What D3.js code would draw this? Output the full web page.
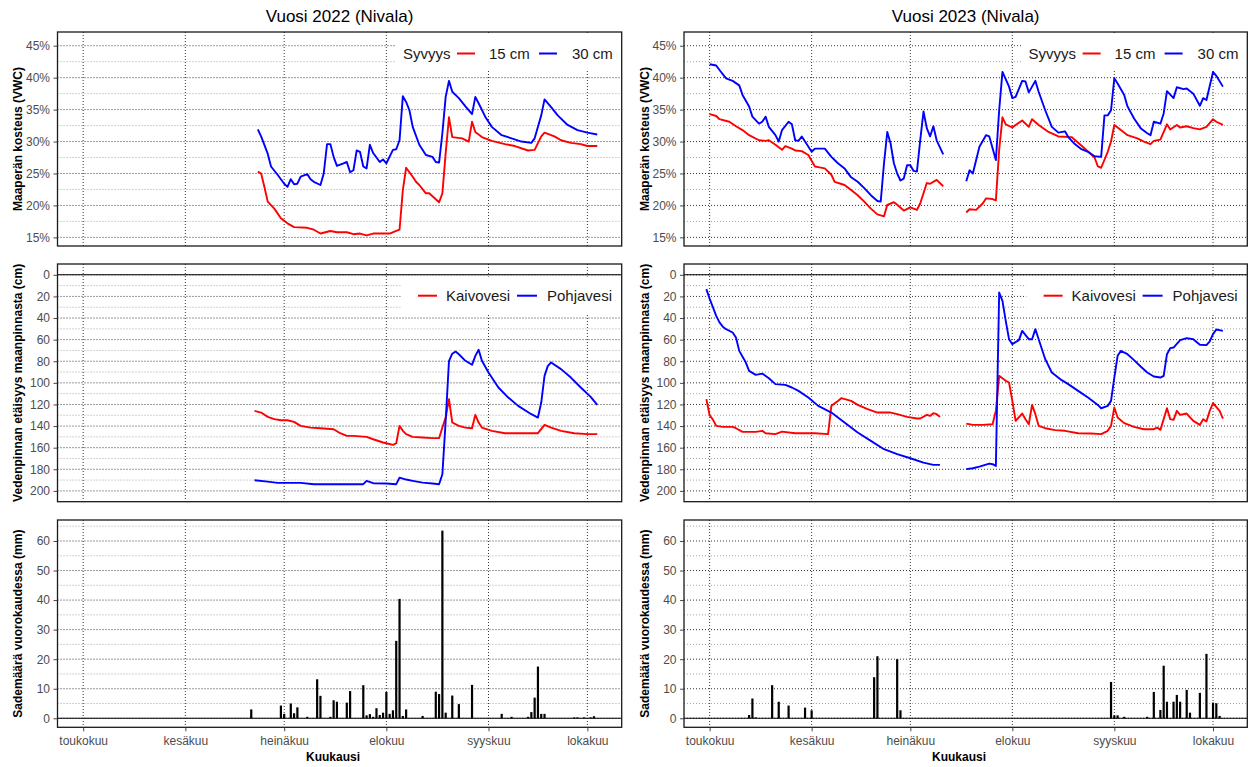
<!DOCTYPE html>
<html><head><meta charset="utf-8">
<script src="https://cdn.jsdelivr.net/npm/d3@7"></script>
<style>body{margin:0;background:#fff;} svg{font-family:"Liberation Sans",Arial,Helvetica,sans-serif;}</style>
</head><body>
<svg id="chart" width="1250" height="767"></svg>
<script>
// ---------------- DATA ----------------
const years = [2022, 2023];
const titles = ["Vuosi 2022 (Nivala)", "Vuosi 2023 (Nivala)"];
const monthLabels = ["toukokuu","kesäkuu","heinäkuu","elokuu","syyskuu","lokakuu"];
const monthStarts = ["05-01","06-01","07-01","08-01","09-01","10-01"];
const moistTicks = [15,20,25,30,35,40,45];
const moistMinor = [17.5,22.5,27.5,32.5,37.5,42.5];
const depthTicks = [0,20,40,60,80,100,120,140,160,180,200];
const depthMinor = [10,30,50,70,90,110,130,150,170,190];
const rainTicks = [0,10,20,30,40,50,60];
const rainMinor = [5,15,25,35,45,55,65];
const yTitles = ["Maaperän kosteus (VWC)","Vedenpinnan etäisyys maanpinnasta (cm)","Sademäärä vuorokaudessa (mm)"];
const moistLegend = ["Syvyys","15 cm","30 cm"];
const waterLegend = ["Kaivovesi","Pohjavesi"];
const xTitle = "Kuukausi";

// Soil moisture (%), 15 cm and 30 cm
const moist15_2022 = [["06-23",25.3],["06-24",25.0],["06-25",22.9],["06-26",20.6],["06-28",19.5],["06-30",18.0],["07-02",17.2],["07-04",16.6],["07-08",16.5],["07-10",16.2],["07-12",15.6],["07-15",16.0],["07-17",15.8],["07-20",15.8],["07-22",15.5],["07-24",15.6],["07-26",15.3],["07-28",15.6],["08-02",15.6],["08-04",16.0],["08-05",16.2],["08-06",22.4],["08-07",25.9],["08-09",24.5],["08-10",23.7],["08-11",23.2],["08-13",21.9],["08-14",21.9],["08-17",20.5],["08-18",21.9],["08-19",28.2],["08-20",33.8],["08-21",30.7],["08-24",30.5],["08-26",30.0],["08-27",33.1],["08-28",31.5],["08-30",30.7],["09-02",30.1],["09-06",29.6],["09-09",29.3],["09-13",28.6],["09-15",28.7],["09-17",30.8],["09-18",31.4],["09-21",30.8],["09-23",30.2],["09-26",29.8],["09-29",29.6],["10-01",29.3],["10-04",29.3]];
const moist30_2022 = [["06-23",31.9],["06-24",30.8],["06-26",28.1],["06-27",26.1],["06-29",24.8],["07-01",23.4],["07-02",22.9],["07-03",24.1],["07-04",23.3],["07-05",23.4],["07-06",24.5],["07-08",24.9],["07-09",24.1],["07-10",23.7],["07-12",23.2],["07-13",25.0],["07-14",29.6],["07-15",29.6],["07-16",27.6],["07-17",26.2],["07-19",26.6],["07-20",26.8],["07-21",25.2],["07-22",25.5],["07-23",28.6],["07-24",28.4],["07-25",26.1],["07-26",25.8],["07-27",29.5],["07-28",28.2],["07-30",26.8],["07-31",27.2],["08-01",26.6],["08-03",28.7],["08-04",28.8],["08-05",30.2],["08-06",37.1],["08-07",36.2],["08-08",34.9],["08-09",32.3],["08-11",29.5],["08-13",27.9],["08-15",27.6],["08-16",26.8],["08-17",26.7],["08-18",31.3],["08-19",37.0],["08-20",39.5],["08-21",37.8],["08-23",36.8],["08-25",35.5],["08-27",34.3],["08-28",37.0],["08-29",36.0],["08-31",33.9],["09-02",32.3],["09-05",31.0],["09-08",30.5],["09-11",30.0],["09-14",29.8],["09-15",30.5],["09-17",34.1],["09-18",36.6],["09-20",35.4],["09-22",34.1],["09-25",32.6],["09-28",31.8],["10-01",31.4],["10-04",31.1]];
const moist15_2023 = [["05-01",34.3],["05-03",34.0],["05-04",33.5],["05-07",33.1],["05-09",32.4],["05-11",31.8],["05-13",31.0],["05-16",30.2],["05-18",30.1],["05-19",30.2],["05-21",29.5],["05-23",28.7],["05-24",29.3],["05-26",28.9],["05-27",28.6],["05-29",28.5],["05-31",27.9],["06-02",26.1],["06-03",26.0],["06-05",25.8],["06-07",24.8],["06-08",23.7],["06-11",23.2],["06-13",22.4],["06-15",21.6],["06-17",20.6],["06-19",19.5],["06-21",18.6],["06-23",18.3],["06-24",20.1],["06-26",20.5],["06-27",20.1],["06-29",19.2],["07-01",19.7],["07-03",19.3],["07-04",20.3],["07-06",23.5],["07-07",23.4],["07-09",24.0],["07-11",23.0],["07-14",null],["07-18",18.9],["07-19",19.4],["07-21",19.3],["07-23",20.3],["07-24",21.1],["07-26",21.0],["07-27",20.8],["07-28",28.7],["07-29",33.8],["07-30",32.7],["08-01",32.2],["08-02",32.6],["08-04",33.3],["08-06",32.3],["08-07",33.5],["08-09",32.6],["08-12",31.5],["08-15",30.8],["08-19",30.7],["08-21",29.8],["08-23",28.9],["08-26",27.5],["08-27",26.1],["08-28",25.9],["08-30",28.4],["08-31",30.0],["09-01",32.6],["09-03",31.8],["09-05",31.0],["09-08",30.5],["09-10",30.0],["09-12",29.6],["09-13",30.1],["09-15",30.3],["09-17",32.7],["09-18",31.9],["09-20",32.6],["09-21",32.2],["09-23",32.4],["09-25",32.1],["09-27",31.9],["09-29",32.3],["10-01",33.5],["10-02",33.1],["10-04",32.6]];
const moist30_2023 = [["05-01",42.1],["05-03",41.9],["05-04",41.2],["05-06",39.9],["05-08",39.5],["05-10",38.8],["05-11",37.3],["05-13",35.5],["05-14",33.9],["05-16",32.8],["05-17",33.1],["05-18",33.9],["05-19",32.3],["05-21",31.0],["05-22",30.0],["05-23",31.8],["05-25",33.1],["05-26",32.7],["05-27",30.2],["05-28",30.1],["05-29",30.8],["05-30",30.0],["06-01",28.4],["06-02",28.9],["06-05",28.9],["06-07",27.6],["06-09",26.6],["06-11",25.8],["06-13",24.4],["06-15",23.7],["06-17",22.7],["06-19",21.6],["06-21",20.7],["06-22",20.6],["06-23",26.6],["06-24",31.5],["06-25",29.7],["06-26",26.6],["06-27",25.0],["06-28",23.9],["06-29",24.2],["06-30",26.3],["07-01",26.3],["07-02",25.4],["07-03",25.3],["07-04",30.2],["07-05",34.7],["07-06",32.1],["07-07",30.8],["07-08",32.4],["07-09",30.2],["07-11",28.0],["07-14",null],["07-18",23.8],["07-19",25.5],["07-20",25.0],["07-22",29.2],["07-24",31.0],["07-25",30.8],["07-27",27.1],["07-28",34.9],["07-29",40.9],["07-31",38.6],["08-01",36.8],["08-02",37.0],["08-04",39.5],["08-05",39.4],["08-06",37.7],["08-08",39.5],["08-09",37.8],["08-11",34.9],["08-13",32.3],["08-15",31.4],["08-17",31.6],["08-18",30.7],["08-20",29.6],["08-22",28.8],["08-24",28.4],["08-26",27.7],["08-28",27.6],["08-29",34.1],["08-30",34.1],["08-31",34.9],["09-01",39.9],["09-02",39.1],["09-04",37.3],["09-05",35.5],["09-07",33.6],["09-09",32.1],["09-11",31.3],["09-12",31.0],["09-13",33.1],["09-15",32.8],["09-16",34.4],["09-17",37.9],["09-19",36.8],["09-20",38.5],["09-22",38.2],["09-23",38.3],["09-25",37.5],["09-27",35.6],["09-28",36.8],["09-29",36.5],["10-01",40.9],["10-02",40.3],["10-04",38.6]];

// Water level below ground (cm): well water (Kaivovesi) and groundwater (Pohjavesi)
const well_2022 = [["06-22",126],["06-24",127.5],["06-26",131.5],["06-28",133.6],["06-30",134.6],["07-02",134.6],["07-04",136.1],["07-06",139.8],["07-09",141.4],["07-12",142],["07-16",142.9],["07-18",146.6],["07-20",149.1],["07-22",149.1],["07-26",150],["07-28",152.2],["07-31",155.2],["08-01",155.9],["08-03",157.4],["08-04",155.9],["08-05",139.8],["08-06",144.4],["08-07",147.5],["08-09",150],["08-12",150.6],["08-15",151.2],["08-17",151.2],["08-18",141.4],["08-19",132.1],["08-20",115.1],["08-21",136.7],["08-23",139.8],["08-25",141.4],["08-27",142],["08-28",129.6],["08-29",136.7],["08-30",141.4],["09-02",144.4],["09-06",146.6],["09-11",146.6],["09-16",146.6],["09-18",138.9],["09-20",141.4],["09-23",144.4],["09-27",146.6],["10-01",147.5],["10-04",147.5]];
const ground_2022 = [["06-22",190.1],["06-26",191.4],["06-29",192.6],["07-06",192.6],["07-10",193.8],["07-25",193.8],["07-26",190.7],["07-28",192.9],["08-01",193.2],["08-04",193.8],["08-05",187.7],["08-07",189.5],["08-09",190.7],["08-12",192.3],["08-15",193.2],["08-17",193.8],["08-18",184.6],["08-19",135.2],["08-20",80],["08-21",73],["08-22",71],["08-23",73.5],["08-25",79.6],["08-27",83.3],["08-28",75],["08-29",69.4],["08-30",79.6],["09-01",90.4],["09-04",104.3],["09-07",113.6],["09-10",121.3],["09-14",129],["09-16",132.1],["09-17",118.2],["09-18",93.5],["09-19",84.3],["09-20",81.2],["09-23",87.3],["09-26",95.1],["09-29",104.3],["10-02",113],["10-04",120.4]];
const well_2023 = [["04-30",115.1],["05-01",130],["05-02",134],["05-03",139.8],["05-05",140.7],["05-08",140.7],["05-09",142],["05-11",145.4],["05-15",145.4],["05-17",144.4],["05-18",146.6],["05-21",147.5],["05-23",145.1],["05-27",146.6],["06-02",146.6],["06-06",147.5],["06-07",121.3],["06-09",116.7],["06-10",114.2],["06-13",116.7],["06-15",120.4],["06-18",124.4],["06-21",127.5],["06-25",127.5],["06-27",129],["06-30",131.5],["07-03",133],["07-04",133],["07-06",129.6],["07-07",130.6],["07-08",128.1],["07-09",129],["07-10",131.5],["07-14",null],["07-18",137.7],["07-20",138.9],["07-23",138.9],["07-26",138.3],["07-27",125.9],["07-28",93.5],["07-30",98.1],["07-31",99.7],["08-01",116.7],["08-02",135.2],["08-04",128.4],["08-05",133.6],["08-06",138.3],["08-07",120.4],["08-08",129],["08-09",139.8],["08-11",142],["08-14",143.8],["08-17",144.4],["08-21",146.6],["08-25",146.9],["08-28",147.5],["08-30",144.4],["08-31",139.8],["09-01",122.8],["09-02",132.1],["09-04",137.3],["09-07",140.7],["09-10",142.9],["09-13",142.9],["09-14",141.4],["09-15",143.5],["09-16",133.6],["09-17",123.5],["09-18",133.6],["09-19",134.3],["09-20",125.9],["09-21",129.6],["09-23",128.4],["09-25",135.2],["09-27",138.9],["09-28",133.6],["09-29",135.8],["09-30",125.9],["10-01",118.8],["10-03",125.9],["10-04",133]];
const ground_2023 = [["04-30",13.3],["05-01",22],["05-02",30],["05-03",38],["05-04",44],["05-05",48],["05-06",50.3],["05-08",53.4],["05-09",58],["05-10",70.4],["05-12",81.2],["05-13",88.9],["05-15",92.6],["05-17",91.4],["05-19",95.7],["05-21",101.2],["05-24",101.9],["05-26",104.3],["05-28",107.4],["05-31",113.6],["06-03",121.3],["06-07",127.5],["06-11",136.7],["06-15",146],["06-19",153.7],["06-23",161.4],["06-27",166],["07-01",169.8],["07-05",173.8],["07-08",175.9],["07-10",175.9],["07-14",null],["07-18",179.9],["07-20",179],["07-22",177.5],["07-25",174.7],["07-26",175.3],["07-27",176.9],["07-28",16.4],["07-29",24.1],["07-30",42.6],["07-31",59.6],["08-01",64.2],["08-03",60.5],["08-04",51.9],["08-06",59.6],["08-07",59.6],["08-08",50.3],["08-09",59.6],["08-11",78.1],["08-13",90.4],["08-16",97.5],["08-18",101.2],["08-21",107.4],["08-24",113.6],["08-27",120.4],["08-28",123.5],["08-30",121.3],["08-31",116.7],["09-01",95.1],["09-02",75],["09-03",70.4],["09-05",73.5],["09-07",79],["09-09",84.9],["09-11",90.4],["09-13",94.1],["09-15",95.1],["09-16",93.5],["09-17",73.5],["09-18",67.9],["09-19",67.3],["09-21",60.5],["09-23",58.6],["09-25",59.6],["09-27",64.8],["09-29",65.1],["09-30",61.7],["10-01",54.9],["10-02",50.6],["10-04",51.9]];

// Daily precipitation (mm)
const rain_2022 = [["06-21",3.0],["06-30",4.3],["07-01",1.5],["07-03",5.0],["07-04",1.7],["07-05",3.7],["07-08",0.5],["07-11",13.2],["07-12",7.6],["07-15",0.5],["07-16",6.1],["07-17",5.6],["07-20",5.3],["07-21",9.2],["07-25",11.2],["07-26",1.0],["07-27",1.4],["07-28",0.5],["07-29",3.4],["07-30",1.1],["07-31",1.9],["08-01",8.9],["08-02",1.5],["08-03",2.7],["08-04",26.2],["08-05",40.4],["08-06",0.8],["08-07",3.0],["08-12",0.8],["08-16",9.0],["08-17",8.2],["08-18",63.5],["08-19",1.9],["08-21",7.7],["08-23",4.8],["08-27",11.3],["09-05",1.5],["09-08",0.5],["09-13",0.5],["09-14",2.1],["09-15",7.0],["09-16",17.5],["09-17",1.5],["09-18",1.5],["09-27",0.3],["09-28",0.3],["09-30",0.3],["10-02",0.3],["10-03",0.7]];
const rain_2023 = [["05-13",1.1],["05-14",6.7],["05-15",0.3],["05-20",11.2],["05-22",5.6],["05-25",4.3],["05-30",3.6],["06-01",2.7],["06-20",13.9],["06-21",21.0],["06-27",20.0],["06-28",2.7],["08-31",12.3],["09-01",1.0],["09-02",1.0],["09-04",0.5],["09-11",0.5],["09-13",8.9],["09-15",2.8],["09-16",17.8],["09-17",5.6],["09-19",5.6],["09-20",7.9],["09-21",5.6],["09-23",9.6],["09-24",1.9],["09-27",8.6],["09-29",21.8],["10-01",5.3],["10-02",5.1],["10-03",0.8]];

const moistData = [[moist15_2022, moist30_2022],[moist15_2023, moist30_2023]];
const waterData = [[well_2022, ground_2022],[well_2023, ground_2023]];
const rainData = [rain_2022, rain_2023];
const seriesColors = ["#FF0000","#0000FF"];

// ---------------- LAYOUT ----------------
const svg = d3.select("#chart");
svg.append("rect").attr("width",1250).attr("height",767).attr("fill","#fff");
const cols = [{x0:57.5,x1:621.7},{x0:684,x1:1247.3}];
const rows = [{y0:32,y1:246},{y0:264,y1:501.7},{y0:520,y1:727.3}];
const yScales = [
  d3.scaleLinear().domain([13.65,47.15]).range([246,32]),
  d3.scaleLinear().domain([-10,210]).range([264,501.7]),
  d3.scaleLinear().domain([-3.05,67.1]).range([727.3,520])
];
const majors = [moistTicks, depthTicks, rainTicks];
const minors = [moistMinor, depthMinor, rainMinor];
const tickFmt = [d=>d+"%", d=>d, d=>d];

years.forEach((yr, c) => {
  const {x0,x1} = cols[c];
  const parse = s => { const [m,d] = s.split("-").map(Number); return new Date(yr, m-1, d); };
  const x = d3.scaleTime().domain([new Date(yr,3,23,5), new Date(yr,9,11,10)]).range([x0,x1]);
  const monthDates = monthStarts.map(parse);

  // title
  svg.append("text").attr("x",(x0+x1)/2).attr("y",22).attr("text-anchor","middle")
    .attr("font-size",17).attr("fill","#000").text(titles[c]);

  rows.forEach((rg, r) => {
    const {y0,y1} = rg;
    const y = yScales[r];
    const g = svg.append("g");
    const clipId = `clip${c}${r}`;
    g.append("clipPath").attr("id",clipId).append("rect")
      .attr("x",x0).attr("y",y0).attr("width",x1-x0).attr("height",y1-y0);

    // minor horizontal grid
    g.append("g").selectAll("line").data(minors[r]).join("line")
      .attr("x1",x0).attr("x2",x1).attr("y1",d=>y(d)).attr("y2",d=>y(d))
      .attr("stroke","#808080").attr("stroke-width",0.7).attr("stroke-dasharray","1 2");
    // major horizontal grid
    g.append("g").selectAll("line").data(majors[r]).join("line")
      .attr("x1",x0).attr("x2",x1).attr("y1",d=>y(d)).attr("y2",d=>y(d))
      .attr("stroke","#000").attr("stroke-width",0.8).attr("stroke-dasharray","1 2");
    // vertical month grid
    g.append("g").selectAll("line").data(monthDates).join("line")
      .attr("x1",d=>x(d)).attr("x2",d=>x(d)).attr("y1",y0).attr("y2",y1)
      .attr("stroke","#000").attr("stroke-width",0.8).attr("stroke-dasharray","1 2");

    if (r > 0) {
      g.append("line").attr("x1",x0).attr("x2",x1).attr("y1",y(0)).attr("y2",y(0))
        .attr("stroke","#000").attr("stroke-width",1.1);
    }

    const dg = g.append("g").attr("clip-path",`url(#${clipId})`);
    if (r < 2) {
      const sets = r === 0 ? moistData[c] : waterData[c];
      const line = d3.line().defined(d=>d[1]!==null).x(d=>x(parse(d[0]))).y(d=>y(d[1]));
      sets.forEach((s,i) => {
        dg.append("path").datum(s).attr("d",line).attr("fill","none")
          .attr("stroke",seriesColors[i]).attr("stroke-width",1.9)
          .attr("stroke-linejoin","round").attr("stroke-linecap","butt");
      });
    } else {
      const bw = 2.2;
      dg.selectAll("rect").data(rainData[c]).join("rect")
        .attr("x",d=>x(parse(d[0]))-bw/2).attr("width",bw)
        .attr("y",d=>y(d[1])).attr("height",d=>y(0)-y(d[1])).attr("fill","#000");
    }

    // legends
    const R = x1;
    if (r === 0) {
      const lg = g.append("g");
      lg.append("rect").attr("x",R-226).attr("y",y0+1).attr("width",225).attr("height",38).attr("fill","#fff");
      const ly = 53.5;
      lg.append("text").attr("x",R-218.7).attr("y",ly+5.3).attr("font-size",15).attr("fill","#1a1a1a").text(moistLegend[0]);
      lg.append("line").attr("x1",R-164.7).attr("x2",R-146.7).attr("y1",ly).attr("y2",ly).attr("stroke",seriesColors[0]).attr("stroke-width",2);
      lg.append("text").attr("x",R-132.7).attr("y",ly+5.3).attr("font-size",15).attr("fill","#1a1a1a").text(moistLegend[1]);
      lg.append("line").attr("x1",R-82.7).attr("x2",R-64.7).attr("y1",ly).attr("y2",ly).attr("stroke",seriesColors[1]).attr("stroke-width",2);
      lg.append("text").attr("x",R-49.7).attr("y",ly+5.3).attr("font-size",15).attr("fill","#1a1a1a").text(moistLegend[2]);
    } else if (r === 1) {
      const lg = g.append("g");
      lg.append("rect").attr("x",R-221).attr("y",276.5).attr("width",220).attr("height",37).attr("fill","#fff");
      const ly = 295.7;
      lg.append("line").attr("x1",R-203.7).attr("x2",R-184.7).attr("y1",ly).attr("y2",ly).attr("stroke",seriesColors[0]).attr("stroke-width",2);
      lg.append("text").attr("x",R-175.7).attr("y",ly+5.3).attr("font-size",15).attr("fill","#1a1a1a").text(waterLegend[0]);
      lg.append("line").attr("x1",R-104.7).attr("x2",R-84.7).attr("y1",ly).attr("y2",ly).attr("stroke",seriesColors[1]).attr("stroke-width",2);
      lg.append("text").attr("x",R-74.7).attr("y",ly+5.3).attr("font-size",15).attr("fill","#1a1a1a").text(waterLegend[1]);
    }

    // border
    g.append("rect").attr("x",x0).attr("y",y0).attr("width",x1-x0).attr("height",y1-y0)
      .attr("fill","none").attr("stroke","#1a1a1a").attr("stroke-width",1.3);

    // y axis
    const ya = g.append("g").attr("transform",`translate(${x0},0)`)
      .call(d3.axisLeft(y).tickValues(majors[r]).tickFormat(tickFmt[r]).tickSize(4).tickPadding(3.5));
    ya.select(".domain").remove();
    ya.selectAll(".tick line").attr("stroke","#333").attr("stroke-width",0.9);
    ya.selectAll(".tick text").attr("fill","#4d4d4d").attr("font-size",12)
      .attr("font-family",'"Liberation Sans",Arial,sans-serif');

    // y title
    svg.append("text").attr("transform",`translate(${x0-39.5},${(y0+y1)/2}) rotate(-90)`)
      .attr("text-anchor","middle").attr("dy","0.35em").attr("font-size",12).attr("font-weight","bold")
      .attr("fill","#000").text(yTitles[r]);

    // x axis (bottom row)
    if (r === 2) {
      const xa = g.append("g").attr("transform",`translate(0,${y1})`)
        .call(d3.axisBottom(x).tickValues(monthDates).tickFormat((d,i)=>monthLabels[i]).tickSize(4).tickPadding(5));
      xa.select(".domain").remove();
      xa.selectAll(".tick line").attr("stroke","#333").attr("stroke-width",0.9);
      xa.selectAll(".tick text").attr("fill","#4d4d4d").attr("font-size",12)
        .attr("font-family",'"Liberation Sans",Arial,sans-serif');
      svg.append("text").attr("x",(x0+x1)/2-6.6).attr("y",760.5).attr("text-anchor","middle")
        .attr("font-size",12).attr("font-weight","bold").attr("fill","#000").text(xTitle);
    }
  });
});
</script>
</body></html>
